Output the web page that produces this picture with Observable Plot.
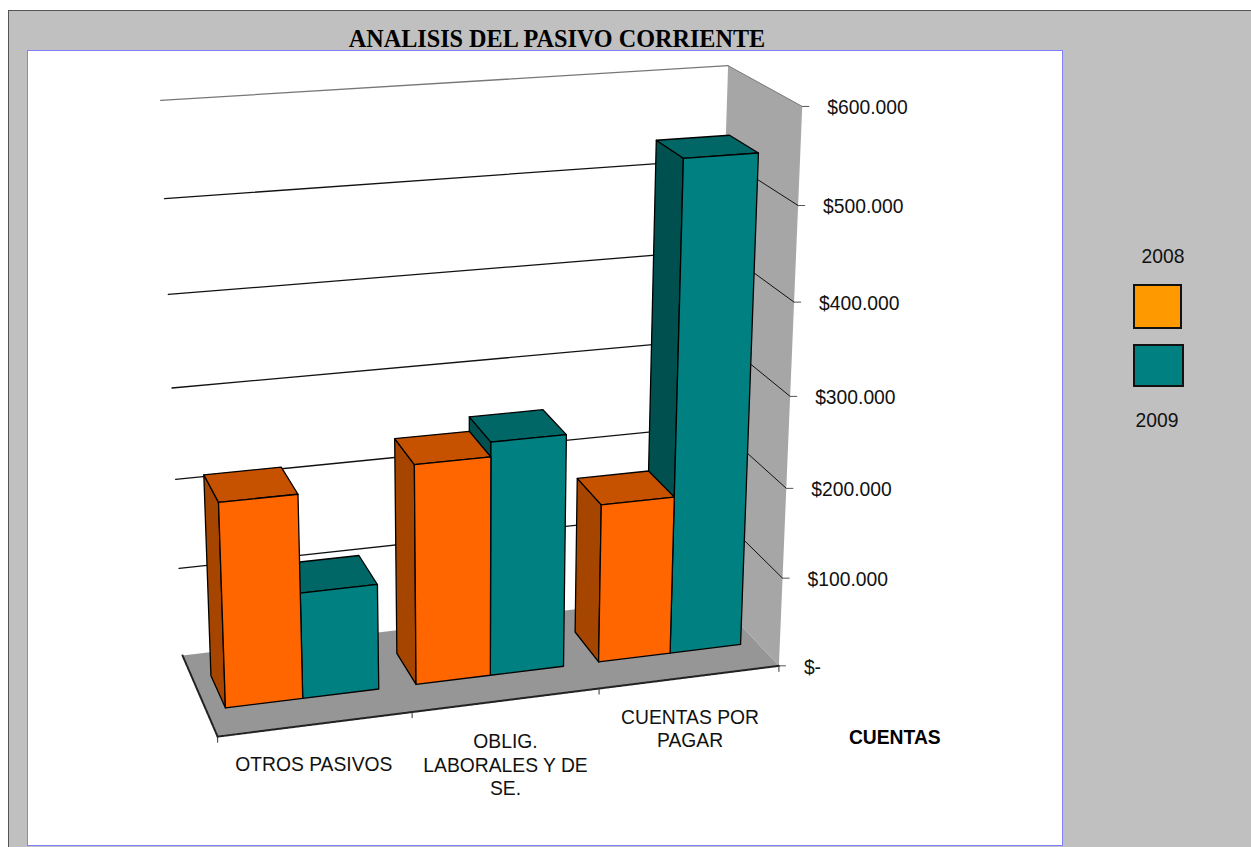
<!DOCTYPE html>
<html><head><meta charset="utf-8">
<script src="https://cdn.jsdelivr.net/npm/d3@7"></script>
<script src="https://cdn.jsdelivr.net/npm/@observablehq/plot@0.6"></script>
<style>
html,body{margin:0;padding:0;background:#fff;overflow:hidden}
#page{position:relative;width:1251px;height:847px;overflow:hidden;font-family:"Liberation Sans",Arial,sans-serif;color:#111}
#frame{position:absolute;left:8px;top:10px;width:1260px;height:860px;background:#C0C0C0;border:1px solid #555;box-sizing:border-box}
#panel{position:absolute;left:27px;top:50px;width:1036px;height:796px;background:#fff;border:1px solid #8080FF;box-sizing:border-box}
#title{position:absolute;left:257px;width:600px;top:25px;text-align:center;font:bold 24.2px "Liberation Serif","Times New Roman",serif;color:#000;white-space:nowrap}
#chart{position:absolute;left:0;top:0}
#chart svg{display:block;background:transparent}
.lg{position:absolute;font-size:19.3px;transform:translate(-50%,-50%);white-space:nowrap}
.sw{position:absolute;border:2px solid #111;box-sizing:border-box}
</style></head>
<body><div id="page">
<div id="frame"></div><div id="panel"></div>
<div id="title"></div>
<div id="chart"></div>
<div id="legend"></div>
</div>
<script>
const chartTitle = "ANALISIS DEL PASIVO CORRIENTE";
const categories = ["OTROS PASIVOS", "OBLIG.\nLABORALES Y DE\nSE.", "CUENTAS POR\nPAGAR"];
const seriesNames = ["2008", "2009"];
const values2008 = [224000, 243000, 178000];
const values2009 = [117000, 259000, 540000];
const yTicks = [0, 100000, 200000, 300000, 400000, 500000, 600000];
const yTickLabels = ["$-", "$100.000", "$200.000", "$300.000", "$400.000", "$500.000", "$600.000"];
const axisName = "CUENTAS";
const yMax = 600000;

// Camera of the 3D view: unit-cube points (across, height, depth) and where they land on the page.
const cameraAnchors = [
  [0,0,0,218,736],[1,0,0,778,667],[1,1,0,803,106],[0,0,1,182,655],[1,0,1,711,592],
  [1,1,1,728,66],[0,1,1,160,100],[1,1/6,0,782,577],[1,5/6,0,796,204],[0,5/6,1,164,198],[0,1/6,1,178,568]
];
function solveCamera(anchors){
  const rows=[],rhs=[];
  for(const [u,v,d,x,y] of anchors){
    rows.push([u,v,d,1,0,0,0,0,-x*u,-x*v,-x*d]);rhs.push(x);
    rows.push([0,0,0,0,u,v,d,1,-y*u,-y*v,-y*d]);rhs.push(y);
  }
  const n=11,A=[];
  for(let i=0;i<n;i++){A.push([]);for(let j=0;j<=n;j++){let s=0;rows.forEach((r,k)=>{s+=r[i]*(j<n?r[j]:rhs[k]);});A[i].push(s);}}
  for(let i=0;i<n;i++){
    let p=i;for(let k=i+1;k<n;k++)if(Math.abs(A[k][i])>Math.abs(A[p][i]))p=k;
    [A[i],A[p]]=[A[p],A[i]];
    for(let k=0;k<n;k++)if(k!==i){const f=A[k][i]/A[i][i];for(let j=i;j<=n;j++)A[k][j]-=f*A[i][j];}
  }
  return A.map((r,i)=>r[n]/r[i]);
}
const cam = solveCamera(cameraAnchors);
function project(u,v,d){
  const w=cam[8]*u+cam[9]*v+cam[10]*d+1;
  return {x:(cam[0]*u+cam[1]*v+cam[2]*d+cam[3])/w, y:(cam[4]*u+cam[5]*v+cam[6]*d+cam[7])/w};
}
const V = value => value/yMax;

const polygons=[];
function poly(id,corners,fill){
  corners.forEach(c=>{const p=project(...c);polygons.push({id,x:p.x,y:p.y,fill});});
}
// walls and floor
poly("floor",[[0,0,0],[1,0,0],[1,0,1],[0,0,1]],"#969696");
poly("wall",[[1,0,0],[1,1,0],[1,1,1],[1,0,1]],"#A6A6A6");

const depthFront=0.31, depthBack=0.71, barWidth=0.134, barStart=[0.033,0.3675,0.7005];
const palette={
  "2008":{front:"#FF6600",top:"#C65200",side:"#A64500"},
  "2009":{front:"#008080",top:"#006666",side:"#005050"}
};
function bar(id,u0,u1,value,c){
  const h=V(value),f=depthFront,b=depthBack;
  poly(id+"s",[[u0,0,f],[u0,h,f],[u0,h,b],[u0,0,b]],c.side);
  poly(id+"t",[[u0,h,f],[u1,h,f],[u1,h,b],[u0,h,b]],c.top);
  poly(id+"f",[[u0,0,f],[u1,0,f],[u1,h,f],[u0,h,f]],c.front);
}
for(let i=categories.length-1;i>=0;i--){
  bar("b09"+i,barStart[i]+barWidth,barStart[i]+2*barWidth,values2009[i],palette["2009"]);
  bar("b08"+i,barStart[i],barStart[i]+barWidth,values2008[i],palette["2008"]);
}
const structure=polygons.filter(p=>p.id==="floor"||p.id==="wall");
const bars=polygons.filter(p=>p.id!=="floor"&&p.id!=="wall");

const gridBack=yTicks.filter(t=>t>0).flatMap(t=>[[0,V(t),1],[1,V(t),1]].map(c=>({id:t,...project(...c)})));
const gridSide=yTicks.filter(t=>t>0).flatMap(t=>[[1,V(t),1],[1,V(t),0]].map(c=>({id:t,...project(...c)})));
const gridStyle=t=>t===yMax?"#777":"#111";
const ticksY=yTicks.map((t,i)=>({...project(1,V(t),0),label:yTickLabels[i]}));
const floorEdge=[0,1,2,3].map(i=>project(i/3,0,0));
const leftEdge=[[0,0,0],[0,0,1]].map(c=>project(...c));
const catLabelAt=[[0.17,-4,40],[0.5,-1,64],[0.83,2,51]];
const catLabels=categories.map((c,i)=>{const a=catLabelAt[i],p=project(a[0],0,0);return {text:c,x:p.x+a[1],y:p.y+a[2]};});
const axisP=project(1,0,0);

const plot=Plot.plot({
  width:1251,height:847,margin:0,
  style:{background:"transparent",fontFamily:'"Liberation Sans",Arial,sans-serif',overflow:"visible"},
  x:{domain:[0,1251],range:[0,1251],axis:null},
  y:{domain:[0,847],range:[0,847],axis:null},
  color:{type:"identity"},
  marks:[
    Plot.line(structure,{x:"x",y:"y",z:"id",fill:"fill",stroke:"none",curve:"linear-closed"}),
    Plot.line(gridBack,{x:"x",y:"y",z:"id",stroke:d=>gridStyle(d.id),strokeWidth:1.3}),
    Plot.line(gridSide,{x:"x",y:"y",z:"id",stroke:d=>gridStyle(d.id),strokeWidth:1}),
    Plot.line(floorEdge,{x:"x",y:"y",stroke:"#222",strokeWidth:2,strokeDasharray:"5 1"}),
    Plot.line(leftEdge,{x:"x",y:"y",stroke:"#222",strokeWidth:2,strokeDasharray:"5 1"}),
    Plot.link(floorEdge,{x1:"x",y1:"y",x2:"x",y2:d=>d.y+6,stroke:"#333"}),
    Plot.link(ticksY,{x1:"x",y1:"y",x2:d=>d.x+7,y2:"y",stroke:"#555"}),
    Plot.line(bars,{x:"x",y:"y",z:"id",fill:"fill",stroke:"#000",strokeWidth:1.3,curve:"linear-closed"}),
    Plot.text(ticksY,{x:"x",y:"y",text:"label",dx:25,dy:1.5,textAnchor:"start",fontSize:19.3,fill:"#111"}),
    Plot.text(catLabels,{x:"x",y:"y",text:"text",textAnchor:"middle",fontSize:19.3,lineHeight:1.2,fill:"#111"}),
    Plot.text([axisName],{x:()=>axisP.x,y:()=>axisP.y,text:d=>d,dx:70,dy:72,textAnchor:"start",fontSize:19.3,fontWeight:"bold",fill:"#000"})
  ]
});
document.getElementById("chart").append(plot);
document.getElementById("title").textContent=chartTitle;
document.getElementById("legend").innerHTML=
 `<div class="lg" style="left:1163px;top:257px">${seriesNames[0]}</div>
  <div class="sw" style="left:1133px;top:284px;width:49px;height:45px;background:#FF9900"></div>
  <div class="sw" style="left:1133px;top:344px;width:51px;height:43px;background:#008080"></div>
  <div class="lg" style="left:1157px;top:421px">${seriesNames[1]}</div>`;
</script>
</body></html>
